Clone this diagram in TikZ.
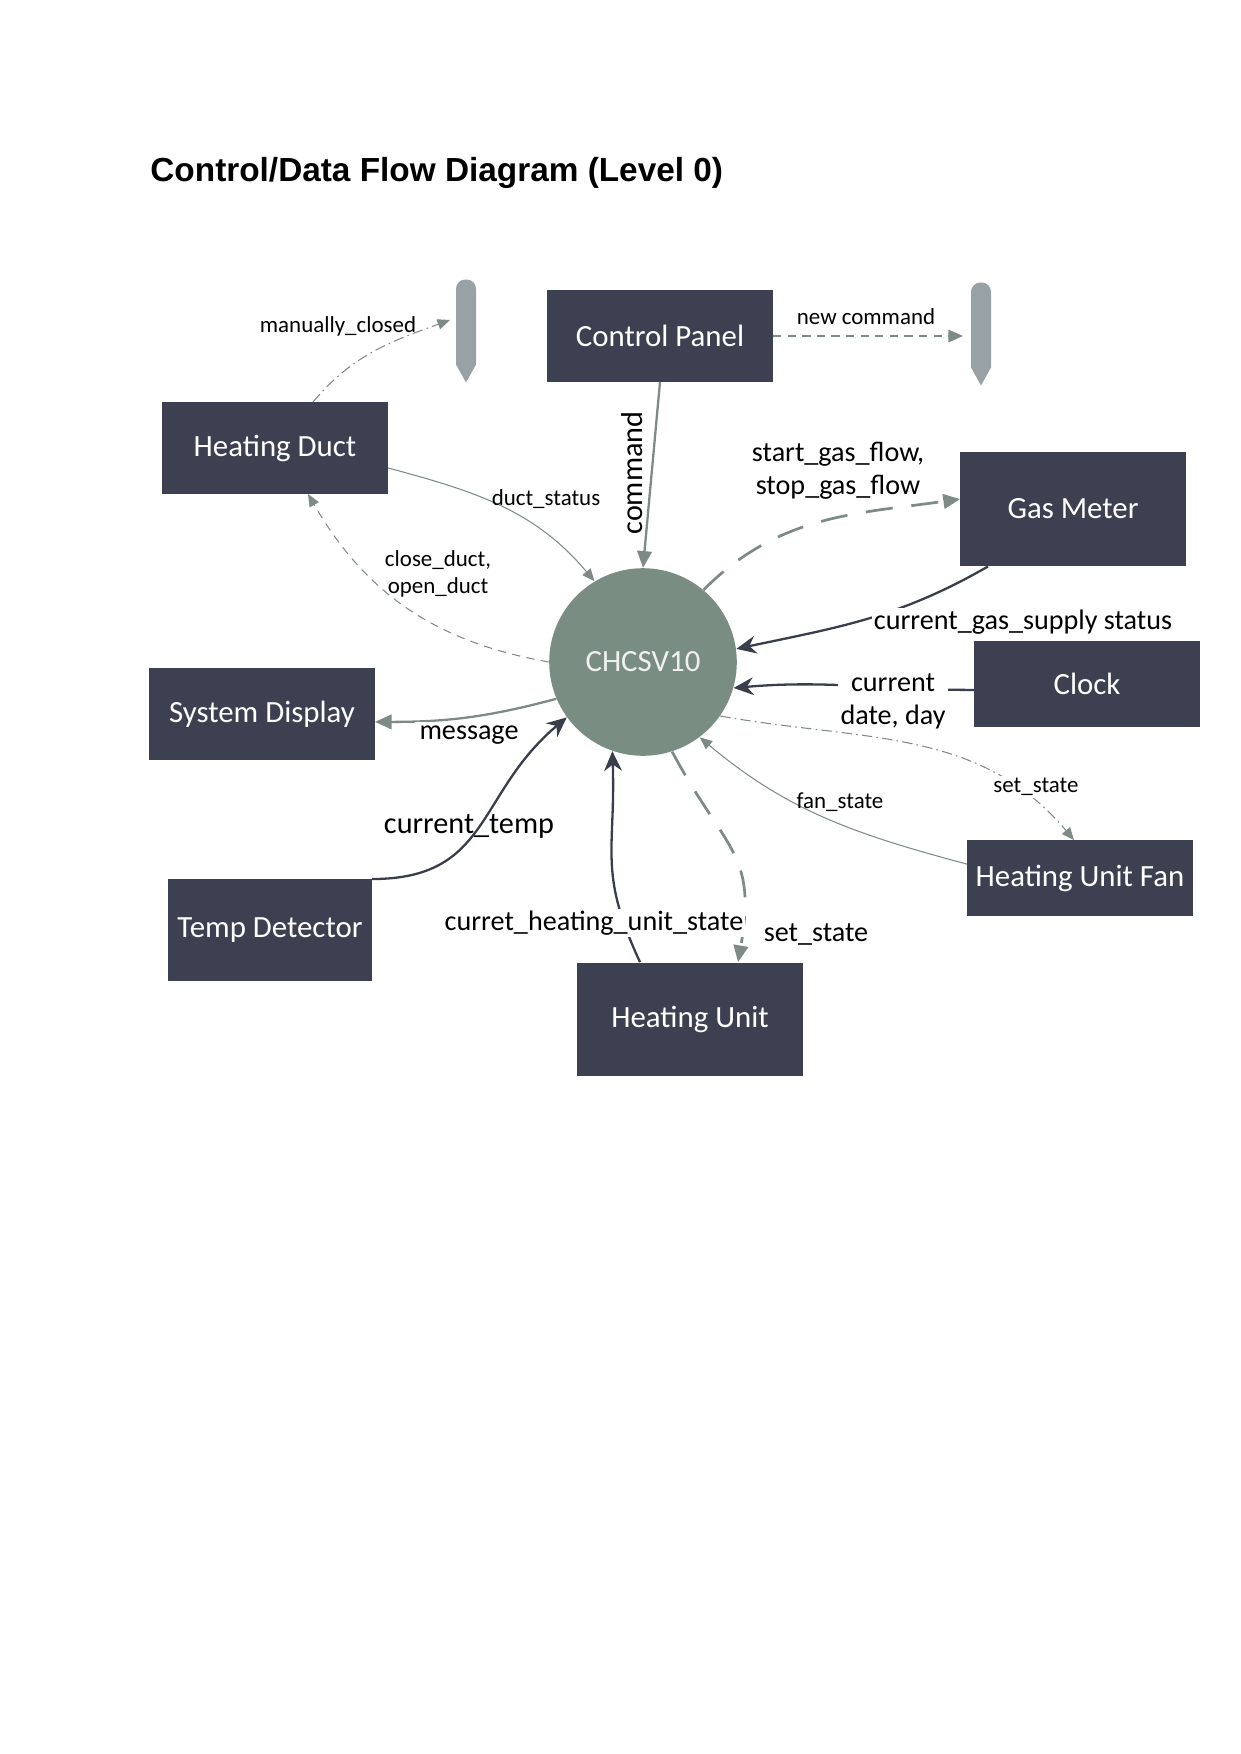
\documentclass[tikz,border=0pt]{standalone}
\usepackage{fontspec}
\setmainfont{Carlito}
\newfontfamily\titlefont{Liberation Sans}
\usepackage{tikz}
\usetikzlibrary{arrows.meta, calc}
\definecolor{boxnavy}{RGB}{61, 64, 81}
\definecolor{hubgreen}{RGB}{122, 141, 131}
\definecolor{flowgray}{RGB}{125, 138, 133}
\definecolor{storegray}{RGB}{152, 161, 166}
\definecolor{flowdark}{RGB}{58, 61, 76}

\begin{document}
\begin{tikzpicture}[
    x=0.4797pt, y=-0.4797pt,
    entity/.style={rectangle, fill=boxnavy, text=white, minimum width=108pt, minimum height=43.7pt, inner sep=2pt, font=\fontsize{14.8}{17}\selectfont},
    hub/.style={circle, fill=hubgreen, text=white!88!hubgreen, minimum size=90pt, inner sep=0pt, font=\fontsize{14.8}{17}\selectfont},
    storebox/.style={rectangle, minimum width=9.2pt, minimum height=49pt, inner sep=0pt},
    lbl/.style={font=\fontsize{11}{13}\selectfont, inner sep=1pt},
    biglbl/.style={font=\fontsize{13.5}{15.8}\selectfont, inner sep=1pt},
    thinflow/.style={draw=flowgray, line width=0.5pt, -{Triangle[length=6pt, width=5pt]}},
    dashthinflow/.style={thinflow, dash pattern=on 4pt off 3pt},
    dashdotflow/.style={thinflow, dash pattern=on 5pt off 2pt on 0.8pt off 2pt},
    dashflow/.style={thinflow, line width=0.7pt, dash pattern=on 4pt off 3pt, -{Triangle[length=7pt, width=6pt]}},
    midflow/.style={draw=flowgray, line width=1.1pt, -{Triangle[length=8pt, width=7pt]}},
    bigdashflow/.style={midflow, line width=1.3pt, dash pattern=on 13pt off 9pt},
    darkflow/.style={draw=flowdark, line width=1.1pt, -{Stealth[length=9.5pt, width=8.5pt]}}
]
    \useasboundingbox (0,0) rectangle (1241,1754);

    \node[anchor=west, inner sep=0pt, font=\titlefont\bfseries\fontsize{16}{19}\selectfont] (title) at (150,173) {Control/Data Flow Diagram (Level 0)};

    % entities and the process
    \node[entity] (hduct) at (275,448) {Heating Duct};
    \node[entity] (cpanel) at (660,336) {Control Panel};
    \node[entity, minimum height=54.7pt] (gasm) at (1073,509) {Gas Meter};
    \node[entity, minimum height=41.3pt] (clock) at (1087,684) {Clock};
    \node[entity] (sysd) at (262,714) {System Display};
    \node[entity, minimum width=97.4pt, minimum height=48.5pt] (tempd) at (270,930) {Temp Detector};
    \node[entity, minimum height=54.2pt] (hunit) at (690,1019) {Heating Unit};
    \node[entity, minimum height=36pt] (hfan) at (1080,878) {Heating Unit Fan};
    \node[hub] (hub) at (643,662) {CHCSV10};

    % data stores
    \node[storebox] (lstore) at (466,331) {};
    \node[storebox] (rstore) at (981,334) {};
    \fill[storegray] (lstore.south) -- ($(lstore.south west)+(0,-18)$) [rounded corners=4.5pt] -- (lstore.north west) -- (lstore.north east) [sharp corners] -- ($(lstore.south east)+(0,-18)$) -- cycle;
    \fill[storegray] (rstore.south) -- ($(rstore.south west)+(0,-18)$) [rounded corners=4.5pt] -- (rstore.north west) -- (rstore.north east) [sharp corners] -- ($(rstore.south east)+(0,-18)$) -- cycle;

    % flows
    \draw[dashdotflow] ($(hduct.north)+(38,0)$) to[out=50, in=200] ($(lstore.west)+(-6,-11)$);
    \draw[dashflow] (cpanel.east) -- ($(cpanel.east -| rstore.west)+(-8,0)$);
    \draw[thinflow] (hduct.-10) to[out=-15, in=130] (hub.121);
    \draw[dashthinflow] (hub.west) to[out=170, in=-60] ($(hduct.south)+(33,0)$);
    \draw[midflow] (cpanel.south) -- (hub.north);
    \draw[bigdashflow] (hub.50) to[out=45, in=188] (gasm.175);
    \draw[darkflow] ($(gasm.south)+(-85,0)$) to[out=-150, in=12] (hub.8);
    \draw[darkflow] (clock.183) to[out=180, in=5] (hub.-16);
    \draw[midflow] (hub.203) to[out=195, in=0] (sysd.-4);
    \draw[darkflow] (tempd.north east) to[out=0, in=220, looseness=1.2] (hub.216);
    \draw[darkflow] ($(hunit.north)+(-50,0)$) to[out=115, in=-88, looseness=1.2] (hub.251);
    \draw[bigdashflow] (hub.-72) to[out=-62, in=80, looseness=1.3] ($(hunit.north)+(48,0)$);
    \draw[thinflow] (hfan.173) to[out=165, in=-40] (hub.-53);
    \draw[dashdotflow] (hub.-35) to[out=-10, in=130] ($(hfan.north)+(-6,0)$);

    % flow labels
    \node[lbl] (lmanual) at (338,326) {manually\_closed};
    \node[lbl] (lnewcmd) at (866,317) {new command};
    \node[lbl] (lductst) at (546,499) {duct\_status};
    \node[biglbl, font=\fontsize{14.5}{17}\selectfont, rotate=90] (lcmd) at (632,473) {command};
    \node[biglbl, align=center] (lgasflow) at (838,471) {start\_gas\_flow,\\stop\_gas\_flow};
    \node[lbl, align=center] (lduct) at (438,574) {close\_duct,\\open\_duct};
    \node[biglbl, fill=white] (lgassup) at (1023,622) {current\_gas\_supply status};
    \node[biglbl, fill=white, align=center] (lclock) at (893,701) {current\\date, day};
    \node[biglbl, fill=white, inner sep=2pt] (lmsg) at (469,735) {message};
    \node[biglbl, font=\fontsize{14.5}{17}\selectfont] (ltemp) at (469,826) {current\_temp};
    \node[lbl] (lfan) at (840,802) {fan\_state};
    \node[lbl, fill=white] (lfanset) at (1036,787) {set\_state};
    \node[biglbl, fill=white] (lhustate) at (594,923) {curret\_heating\_unit\_state};
    \node[biglbl] (lhuset) at (816,934) {set\_state};
\end{tikzpicture}
\end{document}
